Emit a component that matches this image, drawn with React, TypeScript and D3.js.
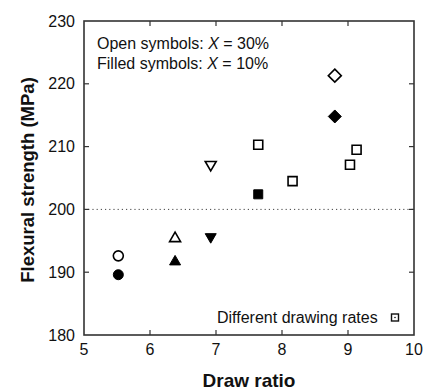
import React from "react";
import * as d3 from "d3";

const drawRatio = [5.52, 6.38, 6.92, 7.64, 8.8];
const strength30 = [192.6, 195.5, 207.0, 210.3, 221.3];
const strength10 = [189.6, 191.8, 195.5, 202.4, 214.8];
const symbols = ["circle", "triangleUp", "triangleDown", "square", "diamond"];
const rateRatio = [8.16, 9.03, 9.13];
const rateStrength = [204.5, 207.1, 209.5];
const xTicks = [5, 6, 7, 8, 9, 10];
const yTicks = [180, 190, 200, 210, 220, 230];
const refLine = 200;

const W = 423;
const H = 390;
const L = 84, T = 21, R = 414, B = 335;

function shapePath(kind: string, cx: number, cy: number): string {
  const p = d3.path();
  if (kind === "circle") {
    p.arc(cx, cy, 5, 0, Math.PI * 2);
  } else if (kind === "triangleUp") {
    p.moveTo(cx, cy - 5.5); p.lineTo(cx + 5.5, cy + 4); p.lineTo(cx - 5.5, cy + 4); p.closePath();
  } else if (kind === "triangleDown") {
    p.moveTo(cx, cy + 5.5); p.lineTo(cx + 5.5, cy - 4); p.lineTo(cx - 5.5, cy - 4); p.closePath();
  } else if (kind === "square") {
    p.rect(cx - 4.5, cy - 4.5, 9, 9);
  } else if (kind === "diamond") {
    p.moveTo(cx, cy - 6.5); p.lineTo(cx + 6.5, cy); p.lineTo(cx, cy + 6.5); p.lineTo(cx - 6.5, cy); p.closePath();
  }
  return p.toString();
}

export default function App() {
  const x = d3.scaleLinear().domain([5, 10]).range([L, R]);
  const y = d3.scaleLinear().domain([180, 230]).range([B, T]);
  const font = "'Liberation Sans', Arial, Helvetica, sans-serif";
  const axisColor = "#333";
  const tl = 5;
  return (
    <svg width={W} height={H} style={{ position: "absolute", left: 0, top: 0, background: "#fff" }}>
      <rect x={0} y={0} width={W} height={H} fill="#fff" />
      {/* reference line */}
      <line x1={L} x2={R} y1={y(refLine)} y2={y(refLine)} stroke="#444" strokeWidth={1} strokeDasharray="1.2,3" />
      {/* frame */}
      <rect x={L} y={T} width={R - L} height={B - T} fill="none" stroke={axisColor} strokeWidth={1.6} />
      {/* x ticks */}
      {xTicks.map((t) => (
        <g key={"x" + t}>
          {t > 5 && t < 10 && (
            <>
              <line x1={x(t)} x2={x(t)} y1={B} y2={B - tl} stroke={axisColor} strokeWidth={1.2} />
              <line x1={x(t)} x2={x(t)} y1={T} y2={T + tl} stroke={axisColor} strokeWidth={1.2} />
            </>
          )}
          <text x={x(t)} y={B + 20} textAnchor="middle" fontFamily={font} fontSize={16} fill="#111">{t}</text>
        </g>
      ))}
      {/* y ticks */}
      {yTicks.map((t) => (
        <g key={"y" + t}>
          {t > 180 && t < 230 && (
            <>
              <line x1={L} x2={L + tl} y1={y(t)} y2={y(t)} stroke={axisColor} strokeWidth={1.2} />
              <line x1={R} x2={R - tl} y1={y(t)} y2={y(t)} stroke={axisColor} strokeWidth={1.2} />
            </>
          )}
          <text x={L - 9} y={y(t) + 5.5} textAnchor="end" fontFamily={font} fontSize={16} fill="#111">{t}</text>
        </g>
      ))}
      {/* axis titles */}
      <text x={x(7.5)} y={387} textAnchor="middle" fontFamily={font} fontSize={19} fontWeight="bold" fill="#111">Draw ratio</text>
      <text transform={`translate(34, ${(T + B) / 2 + 2}) rotate(-90)`} textAnchor="middle" fontFamily={font} fontSize={18.5} fontWeight="bold" fill="#111">Flexural strength (MPa)</text>
      {/* annotations */}
      <text x={97} y={49} fontFamily={font} fontSize={16} fill="#111">Open symbols: <tspan fontStyle="italic">X</tspan> = 30%</text>
      <text x={97} y={69} fontFamily={font} fontSize={16} fill="#111">Filled symbols: <tspan fontStyle="italic">X</tspan> = 10%</text>
      <text x={217} y={323} fontFamily={font} fontSize={16} fill="#111">Different drawing rates</text>
      <rect x={391.5} y={314} width={7} height={7} fill="#fff" stroke="#111" strokeWidth={1.4} />
      <circle cx={395} cy={317.5} r={0.8} fill="#111" />
      {/* filled symbols */}
      {drawRatio.map((d, i) => (
        <path key={"f" + i} d={shapePath(symbols[i], x(d), y(strength10[i]))} fill="#000" stroke="#000" strokeWidth={1} />
      ))}
      {/* open symbols */}
      {drawRatio.map((d, i) => (
        <path key={"o" + i} d={shapePath(symbols[i], x(d), y(strength30[i]))} fill="#fff" stroke="#000" strokeWidth={1.6} />
      ))}
      {/* different drawing rates */}
      {rateRatio.map((d, i) => (
        <path key={"r" + i} d={shapePath("square", x(d), y(rateStrength[i]))} fill="#fff" stroke="#000" strokeWidth={1.6} />
      ))}
    </svg>
  );
}
